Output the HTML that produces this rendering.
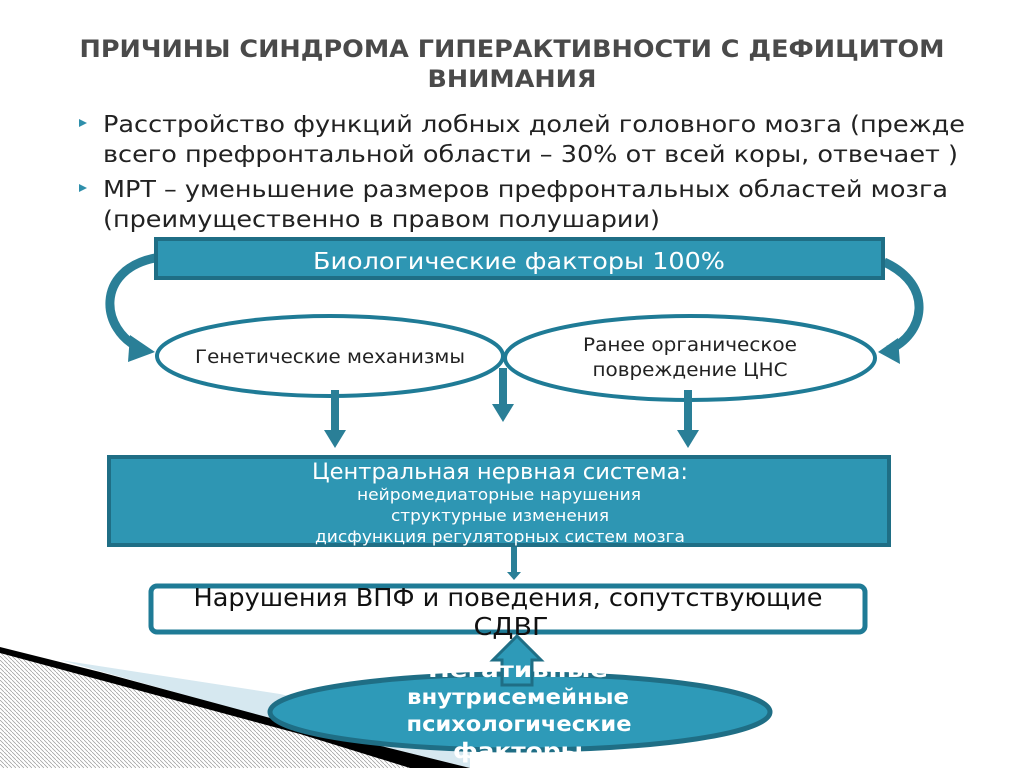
<!DOCTYPE html><html><head><meta charset="utf-8"><style>body{margin:0;background:#fff}svg{display:block}</style></head><body>
<svg width="1024" height="768" xmlns="http://www.w3.org/2000/svg" font-family="DejaVu Sans, Liberation Sans, sans-serif">
<defs><pattern id="h" width="4" height="4" patternUnits="userSpaceOnUse"><path d="M0,0 L4,4" stroke="#999" stroke-width="0.7"/></pattern></defs>
<polygon points="0,648 465,768 0,768" fill="url(#h)"/>
<polygon points="60,660 280,694 470,738 470,768 300,727" fill="#d6e8f0"/>
<polygon points="0,647 100,672 300,726 470,768 410,768 300,734 0,653" fill="#000"/>
<g fill="#4a4a4a" font-weight="bold" font-size="24" text-anchor="middle"><text x="512" y="57" textLength="865" lengthAdjust="spacingAndGlyphs">ПРИЧИНЫ СИНДРОМА ГИПЕРАКТИВНОСТИ С ДЕФИЦИТОМ</text><text x="512" y="87" textLength="169" lengthAdjust="spacingAndGlyphs">ВНИМАНИЯ</text></g>
<g fill="#2f8fab"><polygon points="79,119 87,123 79,127"/><polygon points="79,184 87,188 79,192"/></g>
<g fill="#222" font-size="23"><text x="103" y="132" textLength="862" lengthAdjust="spacingAndGlyphs">Расстройство функций лобных долей головного мозга (прежде</text><text x="103" y="162" textLength="855" lengthAdjust="spacingAndGlyphs">всего префронтальной области – 30% от всей коры, отвечает )</text><text x="103" y="197" textLength="845" lengthAdjust="spacingAndGlyphs">МРТ – уменьшение размеров префронтальных областей мозга</text><text x="103" y="227" textLength="557" lengthAdjust="spacingAndGlyphs">(преимущественно в правом полушарии)</text></g>
<g fill="none" stroke="#2a7f97" stroke-width="9"><path d="M155,258 C95,270 100,330 140,348"/><path d="M884,262 C935,285 925,335 888,350"/></g>
<polygon points="130,335 155,352 128,362" fill="#2a7f97"/><polygon points="898,338 878,352 900,364" fill="#2a7f97"/>
<rect x="156" y="239" width="727" height="39" fill="#2e96b3" stroke="#1f6e85" stroke-width="4"/>
<text x="519" y="269" fill="#fff" font-size="23" text-anchor="middle" textLength="412" lengthAdjust="spacingAndGlyphs">Биологические факторы 100%</text>
<ellipse cx="330" cy="356" rx="173" ry="40" fill="#fff" stroke="#1f7b96" stroke-width="4"/>
<ellipse cx="690" cy="358" rx="185" ry="42" fill="#fff" stroke="#1f7b96" stroke-width="4"/>
<g fill="#222" font-size="19" text-anchor="middle"><text x="330" y="363" textLength="270" lengthAdjust="spacingAndGlyphs">Генетические механизмы</text><text x="690" y="351" textLength="214" lengthAdjust="spacingAndGlyphs">Ранее органическое</text><text x="690" y="376" textLength="195" lengthAdjust="spacingAndGlyphs">повреждение ЦНС</text></g>
<g fill="#2a7f97"><rect x="331" y="390" width="8" height="40"/><polygon points="324,430 346,430 335,448"/><rect x="499" y="368" width="8" height="36"/><polygon points="492,404 514,404 503,422"/><rect x="684" y="390" width="8" height="40"/><polygon points="677,430 699,430 688,448"/><rect x="511" y="546" width="6" height="26"/><polygon points="507,572 521,572 514,580"/></g>
<rect x="109" y="457" width="780" height="88" fill="#2e96b3" stroke="#1f6e85" stroke-width="4"/>
<g fill="#fff" text-anchor="middle"><text x="500" y="479" font-size="22" textLength="376" lengthAdjust="spacingAndGlyphs">Центральная нервная система:</text><g font-size="16"><text x="499" y="500" textLength="284" lengthAdjust="spacingAndGlyphs">нейромедиаторные нарушения</text><text x="500" y="521" textLength="218" lengthAdjust="spacingAndGlyphs">структурные изменения</text><text x="500" y="542" textLength="370" lengthAdjust="spacingAndGlyphs">дисфункция регуляторных систем мозга</text></g></g>
<rect x="151" y="586" width="714" height="46" rx="6" fill="#fff" stroke="#1f7b96" stroke-width="5"/>
<g fill="#111" font-size="25" text-anchor="middle"><text x="508" y="606" textLength="629" lengthAdjust="spacingAndGlyphs">Нарушения ВПФ и поведения, сопутствующие</text><text x="511" y="635" textLength="75" lengthAdjust="spacingAndGlyphs">СДВГ</text></g>
<ellipse cx="520" cy="712" rx="250" ry="38" fill="#2e9ab8" stroke="#1f6e85" stroke-width="5"/>
<polygon points="502,685 502,660 493,660 517,636 541,660 532,660 532,685" fill="#2e9ab8" stroke="#1f6e85" stroke-width="3"/>
<g fill="#fff" font-size="21" font-weight="bold" text-anchor="middle"><text x="518" y="677" textLength="180" lengthAdjust="spacingAndGlyphs">Негативные</text><text x="518" y="704" textLength="222" lengthAdjust="spacingAndGlyphs">внутрисемейные</text><text x="519" y="731" textLength="225" lengthAdjust="spacingAndGlyphs">психологические</text><text x="518" y="758" textLength="130" lengthAdjust="spacingAndGlyphs">факторы</text></g>
</svg></body></html>
